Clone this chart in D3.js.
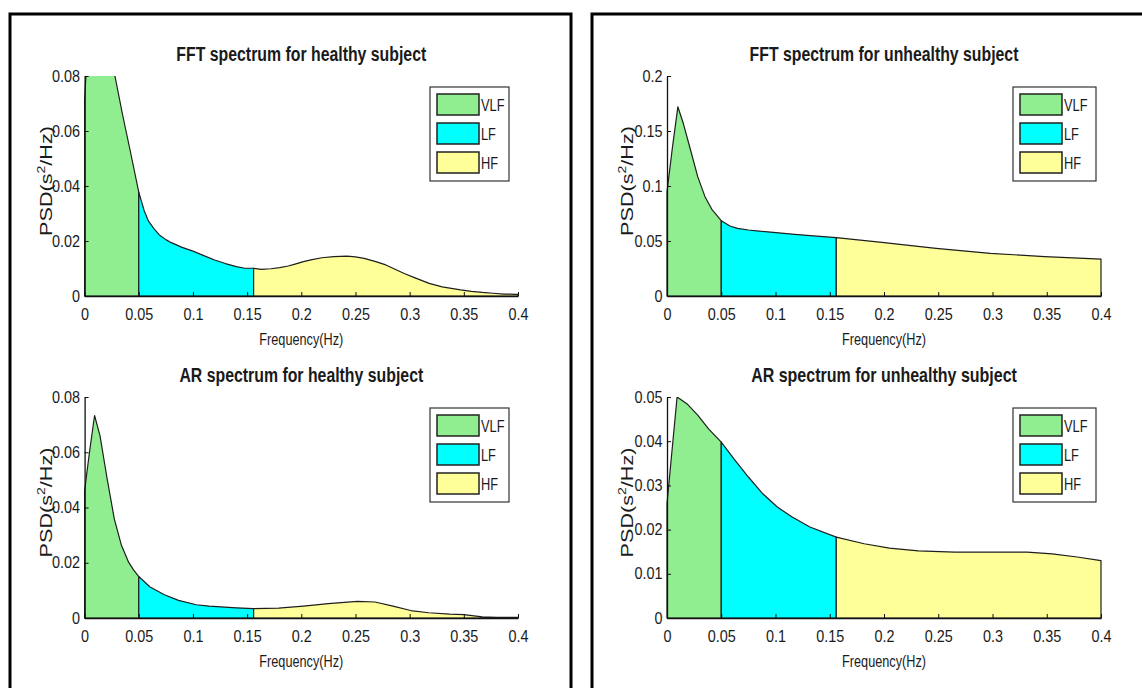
<!DOCTYPE html>
<html><head><meta charset="utf-8">
<script src="https://cdn.jsdelivr.net/npm/d3@7"></script>
<style>
body{margin:0;background:#fff;}
svg{display:block;}
text{font-family:"Liberation Sans", Arial, Helvetica, sans-serif; fill:#1a1a1a;}
</style></head><body>
<svg id="c" width="1142" height="688"></svg>
<script>
// ---------- data ----------
const bandNames  = ["VLF", "LF", "HF"];
const bandEdges  = [0, 0.05, 0.156, 0.4];
const xTicks      = [0, 0.05, 0.1, 0.15, 0.2, 0.25, 0.3, 0.35, 0.4];
const xTickLabels = ["0", "0.05", "0.1", "0.15", "0.2", "0.25", "0.3", "0.35", "0.4"];

const titles = [
  "FFT spectrum for healthy subject",
  "AR spectrum for healthy subject",
  "FFT spectrum for unhealthy subject",
  "AR spectrum for unhealthy subject"
];
const xAxisLabel = "Frequency(Hz)";

const yTicksHealthy      = [0, 0.02, 0.04, 0.06, 0.08];
const yTickLabelsHealthy = ["0", "0.02", "0.04", "0.06", "0.08"];
const yTicksFftUnhealthy      = [0, 0.05, 0.1, 0.15, 0.2];
const yTickLabelsFftUnhealthy = ["0", "0.05", "0.1", "0.15", "0.2"];
const yTicksArUnhealthy      = [0, 0.01, 0.02, 0.03, 0.04, 0.05];
const yTickLabelsArUnhealthy = ["0", "0.01", "0.02", "0.03", "0.04", "0.05"];

const fftHealthyFreq = [0, 0.004, 0.01, 0.016, 0.022, 0.028, 0.035, 0.042, 0.05, 0.055, 0.059, 0.064, 0.069, 0.075, 0.08, 0.09, 0.1, 0.11, 0.12, 0.13, 0.14, 0.148, 0.156, 0.163, 0.172, 0.18, 0.188, 0.195, 0.202, 0.21, 0.219, 0.23, 0.242, 0.25, 0.258, 0.268, 0.278, 0.286, 0.295, 0.305, 0.318, 0.33, 0.347, 0.357, 0.367, 0.377, 0.387, 0.4];
const fftHealthyPsd  = [0.0713, 0.1, 0.125, 0.118, 0.098, 0.08, 0.066, 0.053, 0.0378, 0.031, 0.0272, 0.0245, 0.0222, 0.0205, 0.0194, 0.0177, 0.0163, 0.0147, 0.0131, 0.0118, 0.0107, 0.0101, 0.0101, 0.0097, 0.0099, 0.0103, 0.0109, 0.0117, 0.0125, 0.0132, 0.0139, 0.0143, 0.0145, 0.0142, 0.0137, 0.0126, 0.0113, 0.0098, 0.0082, 0.0066, 0.0046, 0.0033, 0.0022, 0.0017, 0.0013, 0.001, 0.0007, 0.0006];

const arHealthyFreq = [0, 0.0045, 0.0092, 0.0142, 0.0208, 0.0274, 0.034, 0.0406, 0.045, 0.05, 0.0604, 0.0736, 0.0867, 0.103, 0.115, 0.126, 0.14, 0.156, 0.179, 0.202, 0.225, 0.2517, 0.268, 0.2846, 0.301, 0.3176, 0.337, 0.35, 0.367, 0.38, 0.4];
const arHealthyPsd  = [0.0461, 0.06, 0.0733, 0.066, 0.0504, 0.0359, 0.0263, 0.0202, 0.0175, 0.015, 0.0112, 0.0084, 0.0064, 0.0048, 0.0043, 0.004, 0.0037, 0.0034, 0.0036, 0.0043, 0.0052, 0.006, 0.0058, 0.0043, 0.0027, 0.0019, 0.0014, 0.0012, 0.0004, 0.0002, 0.0002];

const fftUnhealthyFreq = [0, 0.005, 0.01, 0.015, 0.0217, 0.0283, 0.035, 0.0417, 0.05, 0.058, 0.065, 0.075, 0.085, 0.098, 0.115, 0.132, 0.156, 0.198, 0.248, 0.298, 0.348, 0.4];
const fftUnhealthyPsd  = [0.0948, 0.135, 0.172, 0.157, 0.1327, 0.1085, 0.0903, 0.0782, 0.0685, 0.0636, 0.0615, 0.06, 0.059, 0.0579, 0.0563, 0.0548, 0.053, 0.0488, 0.0433, 0.0388, 0.0358, 0.0336];

const arUnhealthyFreq = [0, 0.0093, 0.0183, 0.0283, 0.0383, 0.05, 0.0617, 0.075, 0.0883, 0.1017, 0.115, 0.1317, 0.156, 0.1817, 0.205, 0.2317, 0.265, 0.298, 0.332, 0.355, 0.378, 0.4];
const arUnhealthyPsd  = [0.0259, 0.05, 0.0485, 0.0459, 0.0428, 0.0398, 0.036, 0.0319, 0.0281, 0.0251, 0.0229, 0.0206, 0.0183, 0.0168, 0.0158, 0.0152, 0.0149, 0.0149, 0.0149, 0.0145, 0.0138, 0.013];

// ---------- styles / layout ----------
const bandColors = ["#90ee90", "#00ffff", "#ffff99"];

const panels = [
  {title: titles[0], freq: fftHealthyFreq, psd: fftHealthyPsd, yMax: 0.08, yTicks: yTicksHealthy, yLabels: yTickLabelsHealthy,
   x0: 84.6, x1: 518, yB: 296, yT: 76, titleW: 250, ylabX: 46, leg: {x: 430, y: 87, w: 79, h: 94}},
  {title: titles[1], freq: arHealthyFreq, psd: arHealthyPsd, yMax: 0.08, yTicks: yTicksHealthy, yLabels: yTickLabelsHealthy,
   x0: 84.6, x1: 518, yB: 618, yT: 397, titleW: 244, ylabX: 46, leg: {x: 430, y: 408, w: 79, h: 94}},
  {title: titles[2], freq: fftUnhealthyFreq, psd: fftUnhealthyPsd, yMax: 0.2, yTicks: yTicksFftUnhealthy, yLabels: yTickLabelsFftUnhealthy,
   x0: 667, x1: 1101, yB: 296, yT: 76, titleW: 269, ylabX: 627, leg: {x: 1013, y: 87, w: 83, h: 94}},
  {title: titles[3], freq: arUnhealthyFreq, psd: arUnhealthyPsd, yMax: 0.05, yTicks: yTicksArUnhealthy, yLabels: yTickLabelsArUnhealthy,
   x0: 667, x1: 1101, yB: 618, yT: 397, titleW: 266, ylabX: 627, leg: {x: 1013, y: 408, w: 83, h: 94}}
];

const svg = d3.select("#c");

// panel frames
svg.append("path").attr("d", "M10,700V14H571V700").attr("fill", "none").attr("stroke", "#000").attr("stroke-width", 3);
svg.append("path").attr("d", "M592,700V14H1160").attr("fill", "none").attr("stroke", "#000").attr("stroke-width", 3);

function fitText(sel, x, y, targetW, rot) {
  const w = sel.node().getBBox().width;
  const s = targetW / w;
  sel.attr("transform", `translate(${x},${y}) rotate(${rot || 0}) scale(${s},1)`);
}

panels.forEach((p, pi) => {
  const g = svg.append("g");
  const x = d3.scaleLinear().domain([0, 0.4]).range([p.x0, p.x1]);
  const y = d3.scaleLinear().domain([0, p.yMax]).range([p.yB, p.yT]);
  const pts = p.freq.map((f, i) => ({f, v: p.psd[i]}));

  const clipId = "clip" + pi;
  svg.append("clipPath").attr("id", clipId).append("rect")
    .attr("x", p.x0 - 1).attr("y", p.yT).attr("width", p.x1 - p.x0 + 2).attr("height", p.yB - p.yT + 2);

  const area = d3.area().x(d => x(d.f)).y0(y(0)).y1(d => y(d.v));
  const bands = g.append("g").attr("clip-path", `url(#${clipId})`);
  bandNames.forEach((b, bi) => {
    const lo = bandEdges[bi], hi = bandEdges[bi + 1];
    const seg = pts.filter(d => d.f >= lo - 1e-9 && d.f <= hi + 1e-9);
    bands.append("path").datum(seg).attr("d", d => area(d) + "Z")
      .attr("fill", bandColors[bi]).attr("stroke", "#1e1e1e").attr("stroke-width", 1.2)
      .attr("stroke-linejoin", "round");
  });

  // axes
  const ax = g.append("g").attr("transform", `translate(0,${p.yB})`)
    .call(d3.axisBottom(x).tickValues(xTicks).tickFormat((d, i) => xTickLabels[i])
      .tickSizeInner(-4).tickSizeOuter(0).tickPadding(13));
  const ay = g.append("g").attr("transform", `translate(${p.x0},0)`)
    .call(d3.axisLeft(y).tickValues(p.yTicks).tickFormat((d, i) => p.yLabels[i])
      .tickSizeInner(-4).tickSizeOuter(0).tickPadding(5));
  [ax, ay].forEach(a => {
    a.select(".domain").attr("stroke", "#111").attr("stroke-width", 1.3);
    a.selectAll(".tick line").attr("stroke", "#111").attr("stroke-width", 1);
    a.selectAll(".tick text").attr("font-size", 16).attr("fill", "#222")
      .attr("font-family", "Liberation Sans, Arial, sans-serif")
      .attr("transform", "scale(0.9,1)");
  });

  const cx = (p.x0 + p.x1) / 2;
  // title
  const t = g.append("text").text(p.title).attr("font-size", 21).attr("font-weight", "bold")
    .attr("text-anchor", "middle").attr("fill", "#111");
  fitText(t, cx, p.yT - 15, p.titleW);

  // x label
  const xl = g.append("text").text(xAxisLabel).attr("font-size", 16).attr("text-anchor", "middle").attr("fill", "#222");
  fitText(xl, cx, p.yB + 49, 84);

  // y label
  const yl = g.append("text").attr("font-size", 17).attr("text-anchor", "middle").attr("fill", "#222");
  yl.append("tspan").text("PSD(s");
  yl.append("tspan").text("2").attr("font-size", 11).attr("dy", -7);
  yl.append("tspan").text("/Hz)").attr("dy", 7);
  fitText(yl, p.ylabX + 6, (p.yB + p.yT) / 2 - 5, 110, -90);

  // legend
  const L = p.leg;
  const lg = g.append("g");
  lg.append("rect").attr("x", L.x).attr("y", L.y).attr("width", L.w).attr("height", L.h)
    .attr("fill", "#fff").attr("stroke", "#333").attr("stroke-width", 1.2);
  bandNames.forEach((b, bi) => {
    const sy = L.y + 7 + bi * 29;
    lg.append("rect").attr("x", L.x + 7).attr("y", sy).attr("width", 42).attr("height", 21)
      .attr("fill", bandColors[bi]).attr("stroke", "#222").attr("stroke-width", 1.5);
    const lt = lg.append("text").text(b).attr("font-size", 16).attr("fill", "#222");
    lt.attr("transform", `translate(${L.x + 51},${sy + 16.5}) scale(0.8,1)`);
  });
});
</script>
</body></html>
